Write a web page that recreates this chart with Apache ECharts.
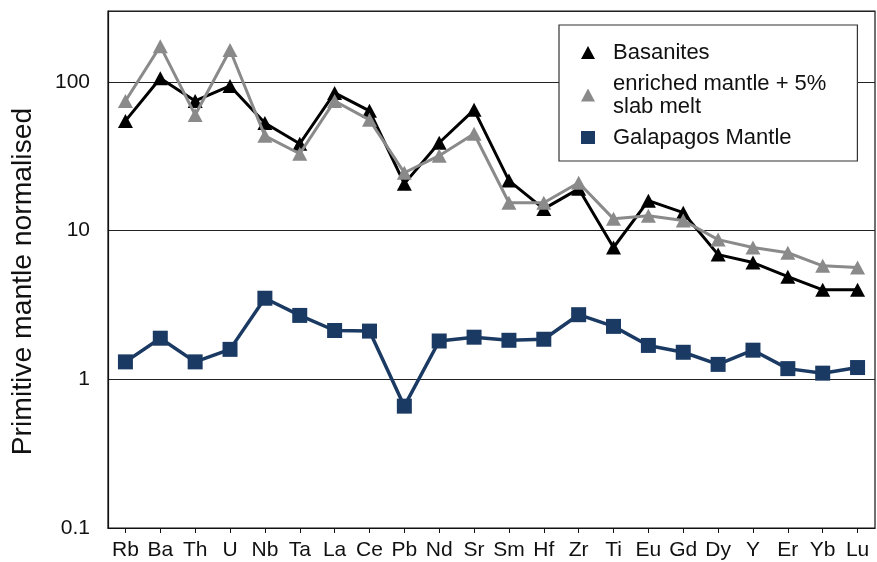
<!DOCTYPE html>
<html>
<head>
<meta charset="utf-8">
<script src="https://cdn.jsdelivr.net/npm/echarts@6/dist/echarts.min.js"></script>
<style>
  html, body { margin: 0; padding: 0; background: #fff; }
  #chart { width: 877px; height: 562px; }
</style>
</head>
<body>
<div id="chart"></div>
<script>
// Trace elements, primitive-mantle normalised
const elements = ['Rb', 'Ba', 'Th', 'U', 'Nb', 'Ta', 'La', 'Ce', 'Pb', 'Nd', 'Sr',
                  'Sm', 'Hf', 'Zr', 'Ti', 'Eu', 'Gd', 'Dy', 'Y', 'Er', 'Yb', 'Lu'];

const basanites = [54.7, 106, 74.5, 94, 53, 38.4, 84.4, 63.9, 20.7, 39, 64.9,
                   21.7, 14, 19.1, 7.7, 15.9, 13.2, 6.9, 6.1, 4.9, 4.0, 4.0];

const enrichedSlabMelt = [74.5, 174, 60, 164, 43.4, 32.9, 74.5, 55.6, 24.5, 31.9, 44.8,
                          15.4, 15.4, 21, 12.0, 12.6, 11.7, 8.7, 7.7, 7.1, 5.8, 5.65];

const galapagosMantle = [1.31, 1.89, 1.31, 1.59, 3.51, 2.69, 2.13, 2.11, 0.66, 1.81, 1.92,
                         1.83, 1.86, 2.72, 2.27, 1.69, 1.52, 1.26, 1.57, 1.18, 1.10, 1.20];

const seriesNames = ['Basanites', 'enriched mantle + 5% slab melt', 'Galapagos Mantle'];
const legendLabels = {
  'Basanites': 'Basanites',
  'enriched mantle + 5% slab melt': 'enriched mantle + 5%\nslab melt',
  'Galapagos Mantle': 'Galapagos Mantle'
};

const FONT = '"Liberation Sans", Arial, sans-serif';
const chart = echarts.init(document.getElementById('chart'), null, { renderer: 'canvas' });

function isDecade(v) {
  const e = Math.log10(v);
  return Math.abs(e - Math.round(e)) < 1e-6;
}

chart.setOption({
  animation: false,
  backgroundColor: '#fff',
  grid: {
    left: 108, right: 2, top: 11, bottom: 34,
    show: true, borderColor: '#111', borderWidth: 1.2, backgroundColor: 'transparent'
  },
  legend: {
    orient: 'vertical',
    left: 559, top: 25,
    padding: [16, 31, 12, 22],
    itemGap: 8,
    itemWidth: 14, itemHeight: 13,
    backgroundColor: '#fff',
    borderColor: '#333', borderWidth: 1.2,
    data: [
      { name: seriesNames[0], icon: 'triangle' },
      { name: seriesNames[1], icon: 'triangle' },
      { name: seriesNames[2], icon: 'rect' }
    ],
    formatter: name => legendLabels[name],
    textStyle: {
      fontFamily: FONT, fontSize: 22, color: '#111',
      lineHeight: 23, padding: [0, 0, 0, 13]
    }
  },
  xAxis: {
    type: 'category',
    data: elements,
    boundaryGap: true,
    axisLine: { show: true, lineStyle: { color: '#111', width: 1.2 } },
    axisTick: { show: true, alignWithLabel: true, interval: 0, length: 5, lineStyle: { color: '#111' } },
    axisLabel: { interval: 0, margin: 12, fontFamily: FONT, fontSize: 21, color: '#111' },
    splitLine: { show: false }
  },
  yAxis: {
    type: 'log',
    logBase: 10,
    min: 0.1,
    max: 300,
    name: 'Primitive mantle normalised',
    nameLocation: 'middle',
    nameGap: 71,
    nameTextStyle: { fontFamily: FONT, fontSize: 28.3, color: '#111', padding: [0, 24, 0, 0] },
    axisLine: { show: true, lineStyle: { color: '#111', width: 1.2 } },
    axisTick: { show: false },
    axisLabel: {
      margin: 18, fontFamily: FONT, fontSize: 21, color: '#111',
      formatter: v => isDecade(v) ? String(+v.toPrecision(1)) : ''
    },
    splitLine: { show: true, lineStyle: { color: '#222', width: 1.2 } }
  },
  series: [
    {
      name: seriesNames[0], type: 'line', data: basanites,
      symbol: 'triangle', symbolSize: [15, 14],
      lineStyle: { color: '#000', width: 3 },
      itemStyle: { color: '#000' },
      z: 3
    },
    {
      name: seriesNames[1], type: 'line', data: enrichedSlabMelt,
      symbol: 'triangle', symbolSize: [15, 14],
      lineStyle: { color: '#8a8a8a', width: 3 },
      itemStyle: { color: '#8a8a8a' },
      z: 4
    },
    {
      name: seriesNames[2], type: 'line', data: galapagosMantle,
      symbol: 'rect', symbolSize: 15,
      lineStyle: { color: '#1b3a63', width: 3.5 },
      itemStyle: { color: '#1b3a63' },
      z: 5
    }
  ]
});
</script>
</body>
</html>
